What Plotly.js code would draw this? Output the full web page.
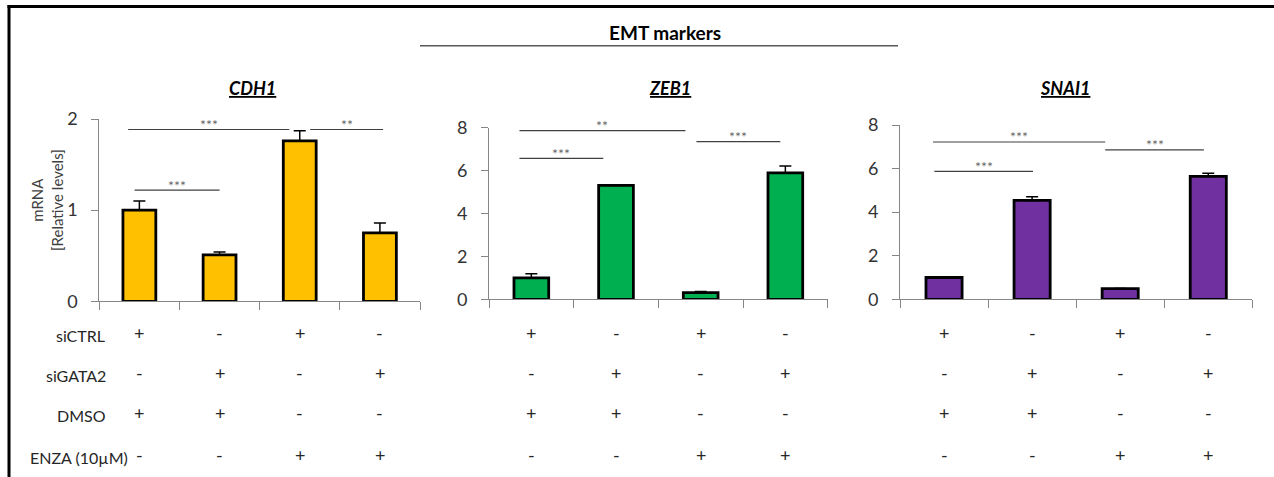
<!DOCTYPE html>
<html>
<head>
<meta charset="utf-8">
<script src="https://cdn.plot.ly/plotly-3.0.1.min.js"></script>
<style>
  html, body { margin: 0; padding: 0; background: #ffffff; }
  #chart { width: 1274px; height: 477px; }
</style>
</head>
<body>
<div id="chart"></div>
<script>
// ---- data -------------------------------------------------------------
const conditions = ['siCTRL + DMSO', 'siGATA2 + DMSO', 'siCTRL + ENZA', 'siGATA2 + ENZA'];
const genes = ['CDH1', 'ZEB1', 'SNAI1'];

const cdh1Values  = [1.00, 0.51, 1.76, 0.75];
const cdh1Errors  = [0.10, 0.03, 0.11, 0.11];
const zeb1Values  = [1.00, 5.31, 0.31, 5.89];
const zeb1Errors  = [0.19, 0.02, 0.05, 0.32];
const snai1Values = [1.00, 4.54, 0.49, 5.64];
const snai1Errors = [0.00, 0.17, 0.00, 0.14];

const cdh1Ticks  = [0, 1, 2];
const otherTicks = [0, 2, 4, 6, 8];

// significance brackets: [from bar, to bar, height, label]
const cdh1Sig  = [[-0.14, 1.87, 1.885, '***'], [2.13, 3.04, 1.885, '**'], [-0.06, 1.00, 1.22, '***']];
const zeb1Sig  = [[-0.14, 1.82, 7.86, '**'], [-0.14, 0.85, 6.57, '***'], [1.95, 2.94, 7.35, '***']];
const snai1Sig = [[-0.125, 1.83, 7.22, '***'], [-0.11, 1.01, 5.87, '***'], [1.83, 2.95, 6.86, '***']];

const treatmentRows  = ['siCTRL', 'siGATA2', 'DMSO', 'ENZA (10µM)'];
const treatmentSigns = [
  ['+', '-', '+', '-'],
  ['-', '+', '-', '+'],
  ['+', '+', '-', '-'],
  ['-', '-', '+', '+']
];

// ---- layout helpers (pixel -> paper) -----------------------------------
const W = 1274, H = 477;
const px = x => x / W;
const py = y => 1 - y / H;
const FONT = 'Lato, "Open Sans", sans-serif';

const panels = [
  { gene: genes[0], values: cdh1Values, errors: cdh1Errors, sig: cdh1Sig, ticks: cdh1Ticks,
    color: '#FFC000', xr: [99.3, 420], yr: [301.3, 119], ymax: 2, titleX: 252 },
  { gene: genes[1], values: zeb1Values, errors: zeb1Errors, sig: zeb1Sig, ticks: otherTicks,
    color: '#00B050', xr: [489, 827.7], yr: [299.3, 127.7], ymax: 8, titleX: 670 },
  { gene: genes[2], values: snai1Values, errors: snai1Errors, sig: snai1Sig, ticks: otherTicks,
    color: '#7030A0', xr: [900, 1252.3], yr: [299.3, 125], ymax: 8, titleX: 1064.5 }
];

const rowY = [333, 373, 413, 455];
const rowLabelRight = [107, 108, 108, 130];

const traces = [];
const shapes = [];
const annotations = [];
const layout = {
  width: W, height: H,
  margin: { l: 0, r: 0, t: 0, b: 0 },
  paper_bgcolor: '#ffffff', plot_bgcolor: 'rgba(0,0,0,0)',
  showlegend: false,
  font: { family: FONT, color: '#262626' }
};

panels.forEach((p, i) => {
  const n = i === 0 ? '' : String(i + 1);
  const xa = 'x' + n, ya = 'y' + n;
  const xPos = conditions.map((_, k) => k);

  traces.push({
    type: 'bar',
    x: xPos,
    y: p.values,
    width: 0.41,
    xaxis: xa, yaxis: ya,
    hovertext: conditions,
    name: p.gene,
    marker: { color: p.color, line: { color: '#000000', width: 2.8 } },
    error_y: {
      type: 'data', symmetric: false,
      array: p.errors, arrayminus: p.errors.map(() => 0),
      color: '#000000', thickness: 1.5, width: 6
    }
  });

  layout['xaxis' + n] = {
    domain: [px(p.xr[0]), px(p.xr[1])],
    anchor: ya,
    range: [-0.5, 3.5],
    tickmode: 'array', tickvals: [-0.5, 0.5, 1.5, 2.5, 3.5],
    ticks: 'outside', ticklen: 8, tickcolor: '#868686', tickwidth: 1,
    showticklabels: false,
    showline: true, linecolor: '#868686', linewidth: 1,
    showgrid: false, zeroline: false, fixedrange: true
  };
  layout['yaxis' + n] = {
    domain: [py(p.yr[0]), py(p.yr[1])],
    anchor: xa,
    range: [0, p.ymax],
    tickmode: 'array', tickvals: p.ticks,
    ticks: 'outside', ticklen: 7, tickcolor: '#868686', tickwidth: 1,
    ticklabelstandoff: 10,
    tickfont: { family: FONT, size: 18, color: '#333333' },
    showline: true, linecolor: '#868686', linewidth: 1,
    showgrid: false, zeroline: false, fixedrange: true
  };

  // gene title
  annotations.push({
    xref: 'paper', yref: 'paper', x: px(p.titleX), y: py(88),
    xanchor: 'center', yanchor: 'middle', showarrow: false,
    text: '<b><i><u>' + p.gene + '</u></i></b>',
    font: { family: FONT, size: 18, color: '#000000' }
  });

  // significance brackets
  p.sig.forEach(([a, b, h, label]) => {
    shapes.push({
      type: 'line', xref: xa, yref: ya, x0: a, x1: b, y0: h, y1: h,
      line: { color: '#404040', width: 1.2 }
    });
    annotations.push({
      xref: xa, yref: ya, x: (a + b) / 2, y: h,
      xanchor: 'center', yanchor: 'middle', yshift: 5, showarrow: false,
      text: label, font: { family: FONT, size: 14, color: '#666666' }
    });
  });

  // treatment +/- table
  treatmentSigns.forEach((row, r) => {
    row.forEach((s, k) => {
      annotations.push({
        xref: xa, yref: 'paper', x: k, y: py(rowY[r]),
        xanchor: 'center', yanchor: 'middle', showarrow: false,
        text: s, font: { family: FONT, size: 18, color: '#262626' }
      });
    });
  });
});

// treatment row labels
treatmentRows.forEach((label, r) => {
  annotations.push({
    xref: 'paper', yref: 'paper', x: px(rowLabelRight[r]), y: py(rowY[r] + 2),
    xanchor: 'right', yanchor: 'middle', showarrow: false,
    text: label, font: { family: FONT, size: 16, color: '#262626' }
  });
});

// y-axis title of the first panel
annotations.push({
  xref: 'paper', yref: 'paper', x: px(47), y: py(200),
  xanchor: 'center', yanchor: 'middle', showarrow: false, textangle: -90,
  text: 'mRNA<br>[Relative levels]',
  font: { family: FONT, size: 15, color: '#404040' }
});

// group heading
annotations.push({
  xref: 'paper', yref: 'paper', x: px(665), y: py(32),
  xanchor: 'center', yanchor: 'middle', showarrow: false,
  text: '<b>EMT markers</b>',
  font: { family: FONT, size: 19, color: '#000000' }
});
shapes.push({
  type: 'line', xref: 'paper', yref: 'paper',
  x0: px(420), x1: px(898), y0: py(45.7), y1: py(45.7),
  line: { color: '#595959', width: 1.5 }
});

// frame
shapes.push({
  type: 'line', xref: 'paper', yref: 'paper',
  x0: px(7.5), x1: 1, y0: py(6.5), y1: py(6.5),
  line: { color: '#000000', width: 3 }
});
shapes.push({
  type: 'line', xref: 'paper', yref: 'paper',
  x0: px(9), x1: px(9), y0: py(5), y1: 0,
  line: { color: '#000000', width: 3 }
});

layout.shapes = shapes;
layout.annotations = annotations;

Plotly.newPlot('chart', traces, layout, { staticPlot: true, displayModeBar: false });
</script>
</body>
</html>
